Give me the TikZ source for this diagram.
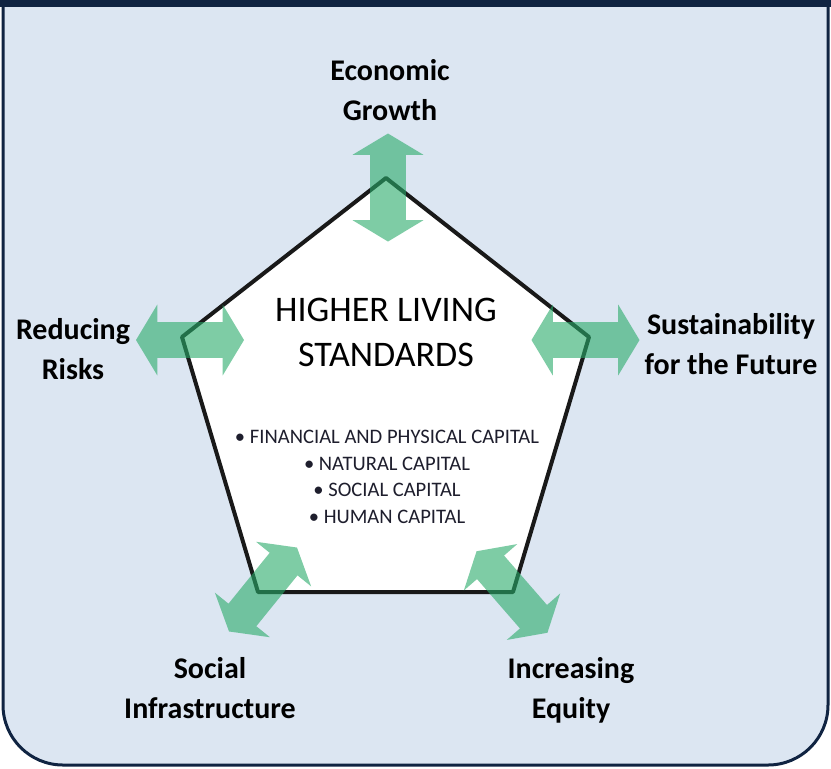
\documentclass[tikz,border=0pt]{standalone}
\usepackage{fontspec}
\setmainfont{Carlito}
\usetikzlibrary{shapes.arrows}

\tikzset{
    dblarrow/.style={double arrow, draw=none, fill=arrowgreen, fill opacity=0.6,
        inner xsep=0pt, inner ysep=8.75pt, minimum height=54pt,
        double arrow head extend=8.75pt, double arrow tip angle=118},
    goal/.style={align=center, font=\fontsize{15}{20}\selectfont\bfseries, text=black},
}

\begin{document}
\begin{tikzpicture}[x=0.5pt, y=-0.5pt]
        \definecolor{panelblue}{RGB}{220,230,242}
        \definecolor{navy}{RGB}{16,36,66}
        \definecolor{arrowgreen}{RGB}{40,170,105}
        \definecolor{listtext}{RGB}{30,30,45}

        \useasboundingbox (0,0) rectangle (831,768);

        % background panel
        \draw[line width=1.5pt, navy, fill=panelblue, rounded corners=30pt]
            (3,7) -- (3,765) -- (828,765) -- (828,7);
        \fill[navy] (0,0) rectangle (831,7);

        % pentagon
        \draw[line width=2pt, black!90, fill=white, line join=round]
            (386,178) -- (589,337) -- (513,592) -- (258,592) -- (182,337) -- cycle;

        \node[align=center, font=\fontsize{18}{22.5}\selectfont] (title) at (386,332)
            {HIGHER LIVING\\STANDARDS};
        \node[align=center, text=listtext, font=\fontsize{10.3}{13.25}\selectfont] (capitals) at (387,477)
            {\textbullet\ FINANCIAL AND PHYSICAL CAPITAL\\
             \textbullet\ NATURAL CAPITAL\\
             \textbullet\ SOCIAL CAPITAL\\
             \textbullet\ HUMAN CAPITAL};

        % goals
        \node[goal] (growth) at (390,90) {Economic\\Growth};
        \node[goal] (risks) at (73,349) {Reducing\\Risks};
        \node[goal] (future) at (731,344) {Sustainability\\for the Future};
        \node[goal] (social) at (210,688) {Social\\Infrastructure};
        \node[goal] (equity) at (571,690) {Increasing\\Equity};

        % arrows
        \node[dblarrow, rotate=90] (agrowth) at (388,187.5) {};
        \node[dblarrow] (arisks) at (190,340) {};
        \node[dblarrow] (afuture) at (585.5,340) {};
        \node[dblarrow, rotate=51] (asocial) at (263,589.5) {};
        \node[dblarrow, rotate=-49] (aequity) at (512,592) {};
    \end{tikzpicture}
\end{document}
